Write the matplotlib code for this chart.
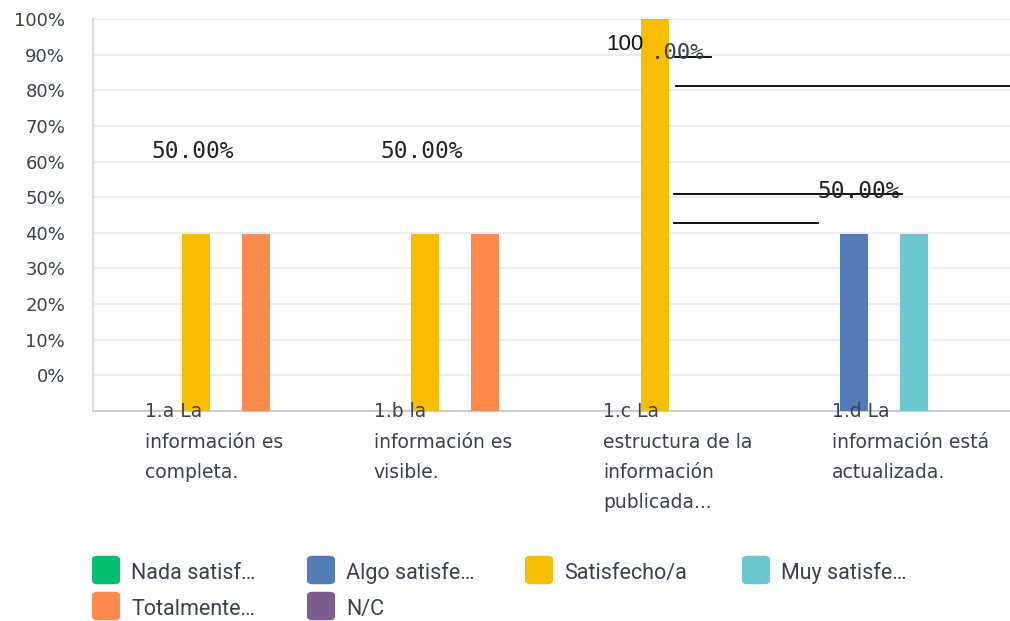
import matplotlib.pyplot as plt
import numpy as np
from matplotlib.patches import FancyBboxPatch
from matplotlib.lines import Line2D

# datos
categorias = ['1.a La\ninformación es\ncompleta.',
              '1.b la\ninformación es\nvisible.',
              '1.c La\nestructura de la\ninformación\npublicada...',
              '1.d La\ninformación está\nactualizada.']
series = ['Nada satisf…', 'Algo satisfe…', 'Satisfecho/a', 'Muy satisfe…', 'Totalmente…', 'N/C']
nada = [0, 0, 0, 0]
algo = [0, 0, 0, 50]
satisfecho = [50, 50, 100, 0]
muy = [0, 0, 0, 50]
totalmente = [50, 50, 0, 0]
nc = [0, 0, 0, 0]
y_ticks = [0, 10, 20, 30, 40, 50, 60, 70, 80, 90, 100]

colores = ['#00bf6f', '#527bb7', '#f7bd00', '#6cc6ce', '#fe8a4e', '#7d5c8f']
texto = '#3a414c'

fig = plt.figure(figsize=(10.1, 6.21), dpi=100)
ax = fig.add_axes([93 / 1010, 1 - 411 / 621, 917 / 1010, 392 / 621])
# las barras van en un eje propio (la escala del original no coincide con las etiquetas)
axb = ax.twinx()

valores = [nada, algo, satisfecho, muy, totalmente, nc]
x = np.arange(len(categorias))
slot = 0.131
for i, vals in enumerate(valores):
    axb.bar(x + (i - 2.5) * slot + 0.015, vals, width=0.122,
            color=colores[i], zorder=3)

ax.set_xlim(-0.5, 3.5)
ax.set_ylim(-10, 100)
axb.set_ylim(9.0, 100)
axb.axis('off')
ax.set_yticks([-10] + y_ticks)
ax.set_yticklabels([''] + [f'{t}%' for t in y_ticks])
ax.tick_params(axis='y', length=0, pad=20, labelsize=13, labelcolor=texto)
ax.set_xticks([])
ax.grid(axis='y', color='#ededed', lw=1.5, zorder=0)
for s in ['top', 'right']:
    ax.spines[s].set_visible(False)
ax.spines['left'].set_color('#dddddd')
ax.spines['bottom'].set_color('#cccccc')
ax.spines['left'].set_linewidth(1.5)
ax.spines['bottom'].set_linewidth(1.5)

# etiquetas de categoria
for i, c in enumerate(categorias):
    axb.text(i - 0.275, 0.022, c, transform=axb.get_xaxis_transform(),
             ha='left', va='top', fontsize=13.5, color=texto, linespacing=1.75,
             zorder=5)

# etiquetas de valores (tal cual aparecen)
mono = 'DejaVu Sans Mono'
for i in [0, 1]:
    axb.text(x[i] - 0.5 * slot, satisfecho[i] + 19.2, f'{satisfecho[i]:.2f}%',
             ha='center', va='center', fontsize=16.5, family=mono, color='#222222')
t100 = f'{satisfecho[2]:.2f}%'
fig.text(643 / 1010, 1 - 44 / 621, t100[:3], ha='right', va='center',
         fontsize=16, family='Liberation Sans', color='#111111')
fig.text(651 / 1010, 1 - 53 / 621, t100[3:], ha='left', va='center',
         fontsize=16, family=mono, color='#3a414c')
fig.text(859 / 1010, 1 - 191 / 621, f'{algo[3]:.2f}%', ha='center', va='center',
         fontsize=16.5, family=mono, color='#222222')

lineas = [((675, 711), 57), ((676, 1010), 86), ((674, 902), 194), ((674, 818), 223)]
for (x0, x1), yy in lineas:
    fig.add_artist(Line2D([x0 / 1010, x1 / 1010], [1 - yy / 621, 1 - yy / 621],
                          color='black', lw=1.3))

# leyenda
col_x = [92, 307, 525, 742]
fila_y = [570, 606]
for i, nombre in enumerate(series):
    cx = col_x[i % 4]
    cy = fila_y[i // 4]
    caja = FancyBboxPatch(((cx + 2) / 1010, (621 - cy - 13) / 621), 24 / 1010, 26 / 621,
                          boxstyle='round,pad=0.002,rounding_size=0.006',
                          transform=fig.transFigure, color=colores[i], lw=0)
    fig.add_artist(caja)
    fig.text((cx + 39) / 1010, 1 - (cy + 1) / 621, nombre, ha='left', va='center_baseline',
             fontsize=15.5, family='Roboto', color=texto)

fig.savefig('out.png', dpi=100)
